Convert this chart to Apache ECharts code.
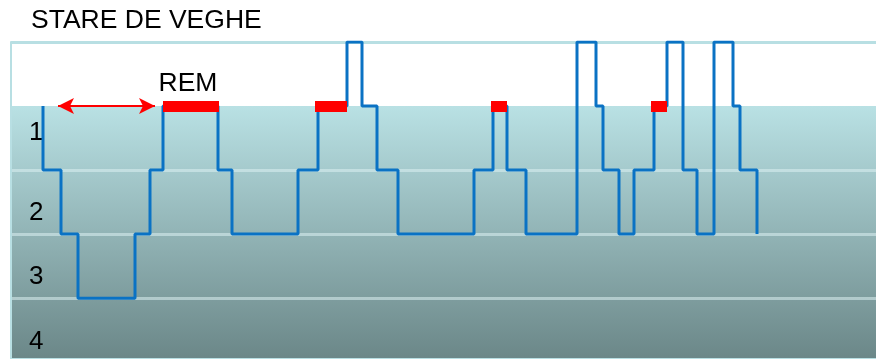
<!DOCTYPE html>
<html>
<head>
<meta charset="utf-8">
<script src="https://cdn.jsdelivr.net/npm/echarts@6/dist/echarts.min.js"></script>
<style>
html,body{margin:0;padding:0;background:#fff;}
#chart{width:876px;height:359px;}
</style>
</head>
<body>
<div id="chart"></div>
<script>
// Time in 30-second epochs from the start of the record; stage 0 = awake
const times  = [32,32,50,67,124,139,152,207,221,287,307,336,351,366,387,463,482,496,515,566,585,592,608,623,643,656,672,686,703,722,729,746];
const stages = [1, 2, 3, 4, 3,  2,  1,  2,  3,  2,  1,  0,  1,  2,  3,  2,  1,  2,  3,  0,  1,  2,  3,  2,  1,  0,  2,  3,  0,  1,  2,  3];
// REM periods (start, end) in epochs
const remStart = [152, 304, 480, 640];
const remEnd   = [208, 336, 496, 656];
// First-cycle arrow span in epochs
const cycleArrow = [47, 144];
const stageLabels = ['1','2','3','4'];
const titleText = 'STARE DE VEGHE';
const remText = 'REM';

const hypno = times.map((t, i) => [t, stages[i]]);
const remData = remStart.map((s, i) => ({
  coords: [[s, 1], [remEnd[i], 1]],
  label: i === 0 ? {show: true, formatter: remText} : {show: false}
}));

const FONT = 'Liberation Sans, Arial, sans-serif';
const chart = echarts.init(document.getElementById('chart'), null, {renderer: 'canvas'});
chart.setOption({
  animation: false,
  title: {
    text: titleText, left: 31, top: 7, padding: 0,
    textStyle: {fontFamily: FONT, fontSize: 26.5, fontWeight: 'normal', color: '#000'}
  },
  grid: {left: 11, right: 0, top: 42, bottom: 0},
  xAxis: {
    type: 'value', min: 0, max: 865, show: false
  },
  yAxis: {
    type: 'value', inverse: true, min: 0, max: 4.95, interval: 1, z: 3,
    axisLine: {show: true, lineStyle: {color: '#b8dfe3', width: 2}},
    axisTick: {show: false},
    splitLine: {show: true, lineStyle: {width: 3, color: ['#b8dfe3', 'rgba(255,255,255,0)', 'rgba(220,240,242,0.55)', 'rgba(220,240,242,0.55)', 'rgba(220,240,242,0.55)']}},
    axisLabel: {
      inside: true, margin: 18,
      customValues: [1.42, 2.67, 3.67, 4.68],
      formatter: v => stageLabels[Math.floor(v) - 1],
      fontFamily: FONT, fontSize: 26, color: '#000'
    }
  },
  series: [
    {
      type: 'line', data: [], z: 0, silent: true,
      markArea: {
        silent: true,
        itemStyle: {
          color: new echarts.graphic.LinearGradient(0, 0, 0, 1, [
            {offset: 0, color: '#b9e1e4'}, {offset: 1, color: '#6b8788'}
          ])
        },
        data: [[{yAxis: 1}, {yAxis: 4.95}]]
      }
    },
    {
      type: 'line', step: 'end', data: hypno, symbol: 'none', z: 5,
      lineStyle: {color: '#0a72c4', width: 3}
    },
    {
      type: 'lines', coordinateSystem: 'cartesian2d', z: 6, data: remData,
      lineStyle: {color: '#ff0000', width: 11, opacity: 1, cap: 'butt'},
      label: {position: 'insideMiddleTop', distance: 9, offset: [-3, 0], color: '#000', fontSize: 26.5, fontFamily: FONT}
    },
    {
      type: 'line', data: [], z: 6,
      markLine: {
        silent: true, symbol: ['arrow', 'arrow'], symbolSize: [12, 16],
        lineStyle: {color: '#ff0000', width: 2, type: 'solid'},
        label: {show: false},
        data: [[{coord: [cycleArrow[0], 1]}, {coord: [cycleArrow[1], 1]}]]
      }
    }
  ]
});
</script>
</body>
</html>
